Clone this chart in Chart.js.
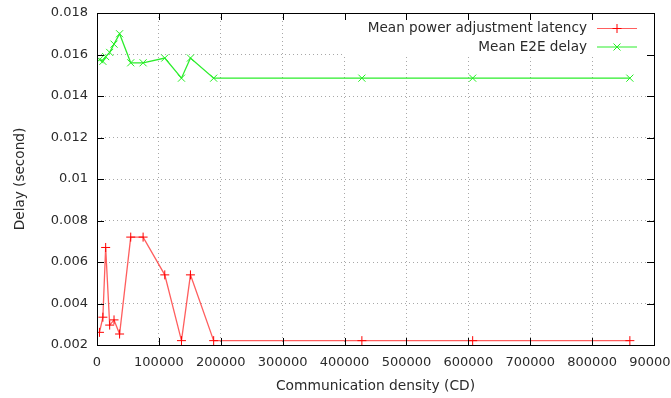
<!DOCTYPE html>
<html>
<head>
<meta charset="utf-8">
<script src="https://cdn.jsdelivr.net/npm/chart.js@4.4.1/dist/chart.umd.min.js"></script>
<style>
  html, body { margin: 0; padding: 0; background: #fff; }
  canvas { display: block; }
</style>
</head>
<body>
<canvas id="delayChart" width="671" height="398"></canvas>
<script>
// values
const density = [4000, 9500, 14000, 20500, 27500, 36500, 54500, 74500, 109500, 136500, 151000, 188500, 428000, 607000, 861000];
const powerLatency = [0.00261, 0.00334, 0.0067, 0.00296, 0.00321, 0.00253, 0.0072, 0.0072, 0.00538, 0.00221, 0.00538, 0.00221, 0.00221, 0.00221, 0.00221];
const e2eDelay = [0.01575, 0.01567, 0.0159, 0.0161, 0.0165, 0.0170, 0.0156, 0.0156, 0.01583, 0.01486, 0.01583, 0.01486, 0.01486, 0.01486, 0.01486];
const xTicks = [0, 100000, 200000, 300000, 400000, 500000, 600000, 700000, 800000, 900000];
const yTicks = [0.002, 0.004, 0.006, 0.008, 0.01, 0.012, 0.014, 0.016, 0.018];

const FONT = "'DejaVu Sans', sans-serif";
const TEXT = "#2a2a2a";

function points(ys) {
    return density.map((x, i) => ({ x: x, y: ys[i] }));
}

// gnuplot look: box border, inward mirror ticks, key with cleared background
const gnuplotFrame = {
    id: "gnuplotFrame",
    beforeDatasetsDraw(chart) {
        const { ctx, chartArea: a } = chart;
        ctx.save();
        ctx.fillStyle = "#fff";
        ctx.fillRect(344, a.top, a.right - 344, 42);
        ctx.restore();
    },
    afterDraw(chart) {
        const { ctx, chartArea: a, scales } = chart;
        const len = 7;
        ctx.save();
        ctx.strokeStyle = "#000";
        ctx.lineWidth = 1;
        ctx.beginPath();
        xTicks.forEach(v => {
            const px = Math.round(scales.x.getPixelForValue(v)) + 0.5;
            ctx.moveTo(px, a.bottom); ctx.lineTo(px, a.bottom - len);
            ctx.moveTo(px, a.top); ctx.lineTo(px, a.top + len);
        });
        yTicks.forEach(v => {
            const py = Math.round(scales.y.getPixelForValue(v)) + 0.5;
            ctx.moveTo(a.left, py); ctx.lineTo(a.left + len, py);
            ctx.moveTo(a.right, py); ctx.lineTo(a.right - len, py);
        });
        ctx.stroke();
        ctx.strokeRect(Math.round(a.left) + 0.5, Math.round(a.top) + 0.5,
            Math.round(a.right - a.left), Math.round(a.bottom - a.top));

        // key
        ctx.font = "13.6px " + FONT;
        ctx.textAlign = "right";
        ctx.textBaseline = "middle";
        const rows = [28.5, 47];
        chart.data.datasets.forEach((ds, i) => {
            const y = rows[i];
            ctx.fillStyle = TEXT;
            ctx.fillText(ds.label, 587, y);
            ctx.strokeStyle = ds.borderColor;
            ctx.lineWidth = 1.2;
            ctx.beginPath();
            ctx.moveTo(597, y); ctx.lineTo(637, y);
            ctx.stroke();
            ctx.strokeStyle = ds.pointBorderColor;
            ctx.lineWidth = 1;
            ctx.beginPath();
            if (ds.pointStyle === "cross") {
                ctx.moveTo(617, y - 4.5); ctx.lineTo(617, y + 4.5);
                ctx.moveTo(612.5, y); ctx.lineTo(621.5, y);
            } else {
                ctx.moveTo(613.5, y - 3.5); ctx.lineTo(620.5, y + 3.5);
                ctx.moveTo(613.5, y + 3.5); ctx.lineTo(620.5, y - 3.5);
            }
            ctx.stroke();
        });
        ctx.restore();
    }
};

document.addEventListener("DOMContentLoaded", function () {
    const ctx = document.getElementById("delayChart").getContext("2d");

    new Chart(ctx, {
        type: "line",
        data: {
            datasets: [{
                label: "Mean power adjustment latency",
                data: points(powerLatency),
                borderColor: "rgba(255, 40, 40, 0.75)",
                borderWidth: 1.3,
                pointStyle: "cross",
                pointRadius: 4.5,
                pointBorderColor: "#ff0000",
                pointBorderWidth: 1,
                fill: false,
                tension: 0
            }, {
                label: "Mean E2E delay",
                data: points(e2eDelay),
                borderColor: "rgba(20, 235, 20, 0.9)",
                borderWidth: 1.3,
                pointStyle: "crossRot",
                pointRadius: 5,
                pointBorderColor: "#22ee22",
                pointBorderWidth: 1,
                fill: false,
                tension: 0
            }]
        },
        options: {
            responsive: false,
            animation: false,
            devicePixelRatio: 1,
            layout: { padding: { left: 0, right: 17, top: 13, bottom: 0 } },
            plugins: {
                legend: { display: false },
                tooltip: { enabled: false }
            },
            scales: {
                x: {
                    type: "linear",
                    min: 0,
                    max: 900000,
                    afterBuildTicks: scale => { scale.ticks = xTicks.map(v => ({ value: v })); },
                    afterFit: scale => { scale.height = 53; scale.paddingLeft = 0; scale.paddingRight = 0; },
                    ticks: {
                        autoSkip: false,
                        maxRotation: 0,
                        padding: 10,
                        color: TEXT,
                        font: { family: FONT, size: 13 },
                        callback: v => String(v)
                    },
                    grid: {
                        drawTicks: false,
                        color: c => (c.tick && (c.tick.value === 0 || c.tick.value === 900000)) ? "rgba(0,0,0,0)" : "#a8a8a8"
                    },
                    border: { display: false, dash: [1, 3] },
                    title: {
                        display: true,
                        text: "Communication density (CD)",
                        color: TEXT,
                        font: { family: FONT, size: 13.8 },
                        padding: { top: 0, bottom: 3 }
                    }
                },
                y: {
                    min: 0.002,
                    max: 0.018,
                    afterBuildTicks: scale => { scale.ticks = yTicks.map(v => ({ value: v })); },
                    afterFit: scale => { scale.width = 97; scale.paddingTop = 0; scale.paddingBottom = 0; },
                    ticks: {
                        padding: 9,
                        color: TEXT,
                        font: { family: FONT, size: 13 },
                        callback: v => String(+v.toFixed(3))
                    },
                    grid: {
                        drawTicks: false,
                        color: c => (c.tick && (Math.abs(c.tick.value - 0.002) < 1e-9 || Math.abs(c.tick.value - 0.018) < 1e-9)) ? "rgba(0,0,0,0)" : "#a8a8a8"
                    },
                    border: { display: false, dash: [1, 3] },
                    title: {
                        display: true,
                        text: "Delay (second)",
                        color: TEXT,
                        font: { family: FONT, size: 13.6 },
                        padding: { top: 12, bottom: 0 }
                    }
                }
            }
        },
        plugins: [gnuplotFrame]
    });
});
</script>
</body>
</html>
